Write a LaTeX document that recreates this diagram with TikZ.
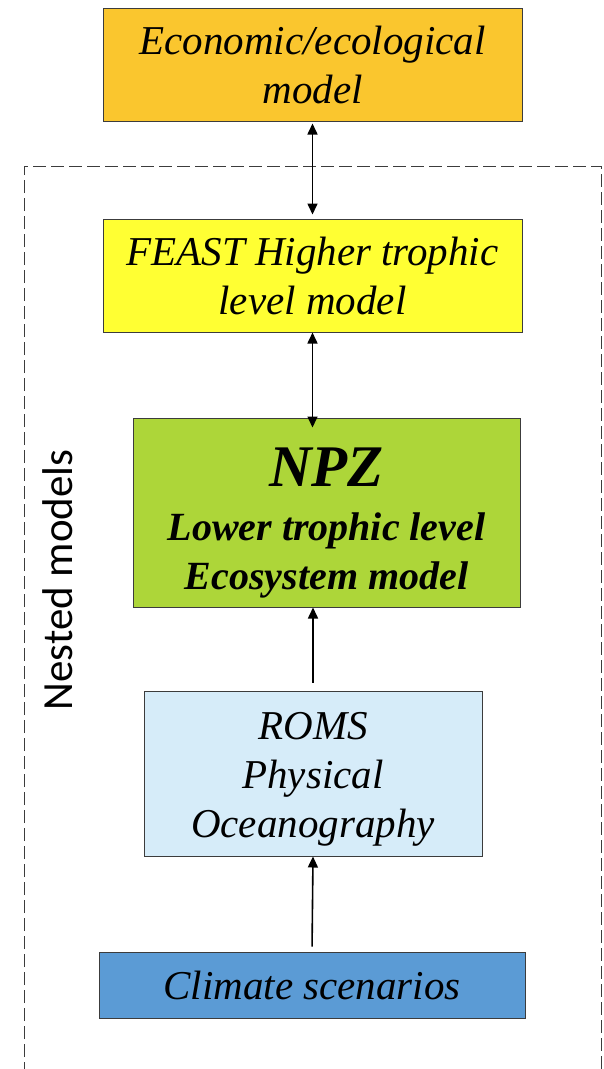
\documentclass[tikz,border=0pt]{standalone}
\usepackage{fontspec}
\setmainfont{Liberation Serif}
\newfontfamily\sidefont{Carlito}
\usepackage{xcolor}
\usepackage{tikz}
\usetikzlibrary{positioning,arrows.meta,calc}
\definecolor{econcolor}{RGB}{250,198,46}
\definecolor{feastcolor}{RGB}{255,255,51}
\definecolor{npzcolor}{RGB}{173,214,57}
\definecolor{romscolor}{RGB}{214,236,249}
\definecolor{climatecolor}{RGB}{91,155,213}
\definecolor{edgecolor}{RGB}{60,60,60}
\tikzset{
  model box/.style={
    rectangle,
    draw=edgecolor,
    line width=1pt,
    inner sep=0pt,
    align=center,
    font=\itshape\fontsize{41}{49}\selectfont
  },
  link/.style={
    line width=1.6pt,
    -{Triangle[length=11pt,width=10pt]}
  },
  both link/.style={
    link,
    {Triangle[length=11pt,width=10pt]}-{Triangle[length=11pt,width=10pt]}
  }
}

\begin{document}
\begin{tikzpicture}[x=1pt,y=-1pt]
  \useasboundingbox (0,0) rectangle (604,1069);

  % Nested frame
  \draw[edgecolor, line width=1pt, dash pattern=on 13pt off 5pt]
    (24,1075) -- (24,166) -- (601,166) -- (601,1075);
  \node[rotate=90, font=\sidefont\fontsize{43}{50}\selectfont] (nested) at (58,580) {Nested models};

  % Models
  \node[model box, fill=econcolor, minimum width=419pt, minimum height=113pt]
    (econ) at (312.5,64.5) {Economic/ecological\\model};
  \node[model box, fill=feastcolor, minimum width=419pt, minimum height=113pt]
    (feast) at (312.5,275.5) {FEAST Higher trophic\\level model};
  \node[model box, fill=npzcolor, minimum width=387pt, minimum height=189pt,
        font=\bfseries\itshape\fontsize{40}{49}\selectfont]
    (npz) at (326.5,512.5) {\rule{0pt}{60pt}{\fontsize{59}{59}\selectfont NPZ}\\[5pt]Lower trophic level\\Ecosystem model};
  \node[model box, fill=romscolor, minimum width=338pt, minimum height=165pt]
    (roms) at (313,773.5) {\rule{0pt}{38pt}ROMS\\Physical\\Oceanography};
  \node[model box, fill=climatecolor, minimum width=426pt, minimum height=66pt]
    (climate) at (312,985) {Climate scenarios};

  % Connections
  \draw[both link, shorten <=2pt, shorten >=4pt] (econ.south) -- (feast.north);
  \draw[both link, shorten >=-10pt] (feast.south) -- (feast.south |- npz.north);
  \coordinate (romstop) at ($(roms.north)+(0,-9)$);
  \draw[link] (npz.south -| romstop) ++(0,75) -- (npz.south -| romstop);
  \draw[link, shorten <=5pt] (climate.north) -- (roms.south);

\end{tikzpicture}
\end{document}
